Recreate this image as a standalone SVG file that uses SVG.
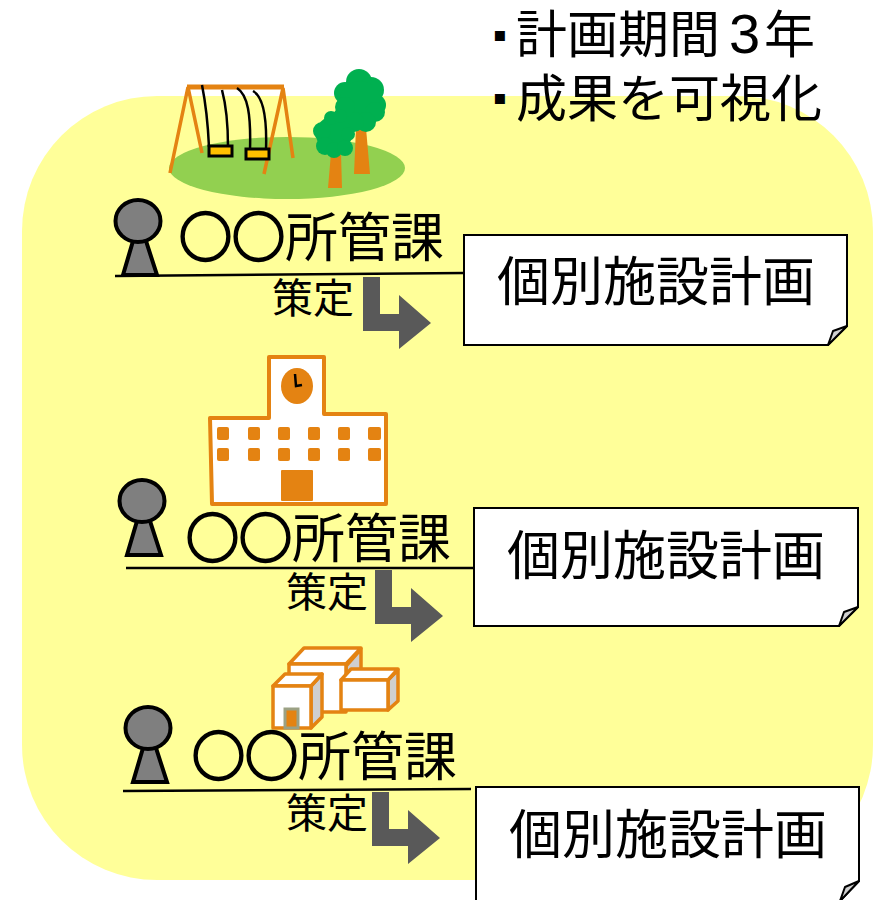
<svg xmlns="http://www.w3.org/2000/svg" xmlns:xlink="http://www.w3.org/1999/xlink" width="884" height="900" viewBox="0 0 884 900">
<style>
text{font-family:"Noto Sans CJK JP","Liberation Sans",sans-serif;fill:#000}
.t{font-size:53px}.d{font-size:53px}.s{font-size:41px}.h{font-size:51px}
.r{stroke:#000;stroke-width:2.4}
.b{font-family:"DejaVu Sans",sans-serif;font-size:20px}
.n{font-family:"Liberation Sans",sans-serif;font-size:56px}
.doc{fill:#fff;stroke:#000;stroke-width:2}
.curl{fill:#d0d0d0;stroke:#000;stroke-width:2;stroke-linejoin:round}
.line{stroke:#000;stroke-width:2.5;fill:none}
.arr{fill:#595959}
.p{fill:#7f7f7f;stroke:#000;stroke-width:4}
.o{fill:none;stroke:#e48312;stroke-linecap:butt}
.k{fill:none;stroke:#000;stroke-width:2.5}
.w{fill:#fff;stroke:#e48312;stroke-width:3.5;stroke-linejoin:round}
.g{fill:#cfcfcf;stroke:#e48312;stroke-width:3.5;stroke-linejoin:round}
.f{fill:#e48312}
</style>
<defs>
<g id="person"><path class="p" d="M-5 20L-15 54H19L8 20Z"/><ellipse class="p" cx="0" cy="0" rx="22.5" ry="21"/></g>
<path id="bent" class="arr" d="M0 0H17V37H36V18L68 46L36 72V54H0Z"/>
</defs>
<rect id="bg" x="22" y="96" width="851" height="784" rx="135" ry="135" fill="#ffff99"/>
<g id="note"><text class="b" x="493" y="41">▪</text><text class="h" x="516" y="53">計画期間<tspan class="n" x="729">3</tspan><tspan x="764">年</tspan></text><text class="b" x="493" y="104">▪</text><text class="h" x="516" y="117">成果を可視化</text></g>
<g id="park">
<ellipse cx="287" cy="168" rx="118" ry="31" fill="#92d050"/>
<path class="o" stroke-width="3.5" d="M170 173L188 87L202 153M264 174L283 88L293 158"/>
<path class="o" stroke-width="5" d="M187 87H284"/>
<path class="k" d="M202 85C206 105 208 125 209 147M222 90C226 105 228 125 228 147M237 88C248 95 251 115 250 150M253 91C264 97 267 120 266 150"/>
<rect x="209" y="146" width="23" height="10" fill="#ffc000" stroke="#000" stroke-width="3"/>
<rect x="246" y="149" width="23" height="10" fill="#ffc000" stroke="#000" stroke-width="3"/>
<path class="f" d="M331 153H341L342 188H328Z"/><path class="f" d="M356 128H366L370 174H354Z"/>
<g fill="#00b050"><circle cx="359" cy="82" r="13"/><circle cx="345" cy="93" r="11"/><circle cx="371" cy="90" r="13"/><circle cx="375" cy="105" r="11"/><circle cx="360" cy="102" r="21"/><circle cx="375" cy="112" r="10"/><circle cx="366" cy="122" r="10"/><circle cx="354" cy="122" r="10"/><circle cx="345" cy="107" r="10"/><circle cx="334" cy="134" r="18"/><circle cx="322" cy="131" r="9"/><circle cx="325" cy="146" r="9"/><circle cx="334" cy="150" r="8"/><circle cx="345" cy="148" r="8"/><circle cx="331" cy="118" r="7"/><circle cx="340" cy="116" r="7"/><circle cx="348" cy="134" r="7"/></g>
</g>
<g id="school">
<path d="M210 418H269V357H324V414H386V504H212Z" fill="#fff" stroke="#e48312" stroke-width="4" stroke-linejoin="round"/>
<ellipse class="f" cx="297" cy="386" rx="16" ry="18"/>
<path class="k" d="M295 374L296 386L302 385"/>
<g class="f">
<rect x="217" y="427" width="12" height="13" rx="2"/><rect x="248" y="427" width="12" height="13" rx="2"/><rect x="278" y="427" width="12" height="13" rx="2"/><rect x="308" y="427" width="12" height="13" rx="2"/><rect x="338" y="427" width="12" height="13" rx="2"/><rect x="368" y="427" width="13" height="13" rx="2"/>
<rect x="217" y="448" width="12" height="13" rx="2"/><rect x="248" y="448" width="12" height="13" rx="2"/><rect x="278" y="448" width="12" height="13" rx="2"/><rect x="308" y="448" width="12" height="13" rx="2"/><rect x="338" y="448" width="12" height="13" rx="2"/><rect x="368" y="448" width="13" height="13" rx="2"/>
<rect x="281" y="470" width="32" height="31" rx="1"/></g>
</g>
<g id="buildings">
<path class="g" d="M346 666L361 649V682L346 696Z"/><path class="w" d="M289 664L304 648H361L346 664Z"/><path class="w" d="M289 664H346V712H289Z"/>
<path class="g" d="M388 680L398 670V701L388 710Z"/><path class="w" d="M341 680L351 669H398L388 680Z"/><path class="w" d="M341 680H388V710H341Z"/>
<path class="g" d="M311 686L322 674V717L311 728Z"/><path class="w" d="M273 686L285 674H322L311 686Z"/><path class="w" d="M273 686H311V728H273Z"/>
<rect x="285" y="709" width="13" height="19" fill="#e48312" stroke="#9ba184" stroke-width="3"/>
</g>
<g id="connectors">
<path class="line" d="M115 276L464 273"/><path class="line" d="M126 568H474"/><path class="line" d="M123 791L471 789"/>
<use xlink:href="#bent" href="#bent" x="363" y="277"/>
<use xlink:href="#bent" href="#bent" x="375" y="570"/>
<use xlink:href="#bent" href="#bent" x="372" y="792"/>
</g>
<g id="unit1"><use xlink:href="#person" href="#person" x="138" y="221"/><text class="t" x="179" y="257"><tspan class="r">○○</tspan>所管課</text><text class="s" x="272" y="313">策定</text></g>
<g id="doc1"><path class="doc" d="M464 235H847V326L828 345H464Z"/><path class="curl" d="M828 345L833 331L847 326Z"/><text class="d" x="497" y="301">個別施設計画</text></g>
<g id="unit2"><use xlink:href="#person" href="#person" x="142" y="501"/><text class="t" x="186" y="558"><tspan class="r">○○</tspan>所管課</text><text class="s" x="286" y="607">策定</text></g>
<g id="doc2"><path class="doc" d="M474 508H858V607L839 626H474Z"/><path class="curl" d="M839 626L844 612L858 607Z"/><text class="d" x="507" y="575">個別施設計画</text></g>
<g id="unit3"><use xlink:href="#person" href="#person" x="148" y="728"/><text class="t" x="192" y="776"><tspan class="r">○○</tspan>所管課</text><text class="s" x="286" y="828">策定</text></g>
<g id="doc3"><path class="doc" d="M476 787H859V881L840 901H476Z"/><path class="curl" d="M840 901L845 887L859 881Z"/><text class="d" x="509" y="854">個別施設計画</text></g>
</svg>
